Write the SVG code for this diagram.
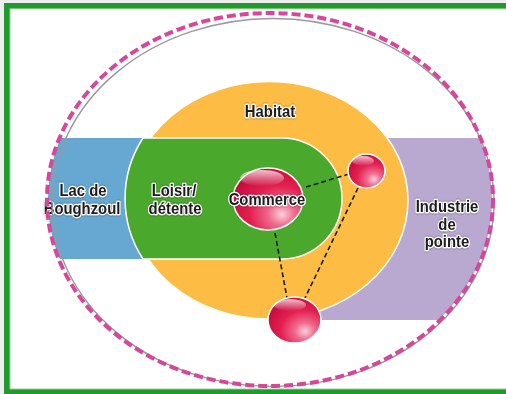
<svg xmlns="http://www.w3.org/2000/svg" width="506" height="394" viewBox="0 0 506 394">
<defs>
<style>
.lbl{font-family:"Liberation Sans",Arial,sans-serif;font-weight:bold;font-size:16.5px;fill:#1a1a1a;stroke:#ffffff;stroke-width:2.6;paint-order:stroke;stroke-linejoin:round;text-anchor:middle;filter:url(#halo)}
.conn{fill:none;stroke:#1a1a1a;stroke-width:1.6;stroke-dasharray:5 3}
.ball{fill:url(#ballg);stroke:#ffffff;stroke-width:1.5}
.shine{fill:url(#shineg)}
</style>
<clipPath id="inner"><ellipse cx="270" cy="200" rx="222" ry="185"/></clipPath>
<radialGradient id="ballg" cx="0.68" cy="0.72" r="0.75" fx="0.7" fy="0.75">
<stop offset="0" stop-color="#fbd0dc"/>
<stop offset="0.25" stop-color="#f06a8e"/>
<stop offset="0.6" stop-color="#e2204f"/>
<stop offset="1" stop-color="#c40c3c"/>
</radialGradient>
<linearGradient id="shineg" x1="0" y1="0" x2="0" y2="1">
<stop offset="0" stop-color="#ffffff" stop-opacity="0.75"/>
<stop offset="1" stop-color="#ffffff" stop-opacity="0"/>
</linearGradient>
<filter id="halo" x="-20%" y="-40%" width="140%" height="180%">
<feDropShadow dx="0" dy="0" stdDeviation="0.8" flood-color="#000" flood-opacity="0.55"/>
</filter>
</defs>

<g id="frame">
<rect x="0" y="0" width="506" height="394" fill="#eeeeee"/>
<rect x="4" y="3" width="502" height="391" fill="#22992f"/>
<rect x="9.5" y="8.3" width="497" height="381.2" fill="#8fd38f"/>
<rect x="10.5" y="9.3" width="496" height="379.2" fill="#ffffff"/>
</g>

<g id="bands" clip-path="url(#inner)">
<rect id="lac-band" x="40" y="138" width="160" height="121" fill="#66a8d1"/>
<rect id="industrie-band" x="300" y="138" width="200" height="182" fill="#b9a9d1"/>
</g>

<g id="habitat">
<ellipse cx="269" cy="200.3" rx="139" ry="118.7" fill="#fdbc43" stroke="#ffffff" stroke-width="1.5"/>
<text class="lbl" transform="translate(270,117) scale(0.9,1)">Habitat</text>
</g>

<g id="loisir">
<path d="M143,138 L281.5,138 A60.5,60.5 0 0 1 281.5,259 L143,259 A111,111 0 0 1 143,138 Z" fill="#4aa82c" stroke="#ffffff" stroke-width="1.5"/>
<text class="lbl" transform="translate(174,196) scale(0.9,1)">Loisir/</text>
<text class="lbl" transform="translate(175,214) scale(0.9,1)">détente</text>
</g>

<g id="lac">
<text class="lbl" transform="translate(83,196) scale(0.9,1)">Lac de</text>
<text class="lbl" transform="translate(82,214) scale(0.9,1)">Boughzoul</text>
</g>

<g id="industrie">
<text class="lbl" transform="translate(447,212) scale(0.9,1)">Industrie</text>
<text class="lbl" transform="translate(447,229.5) scale(0.9,1)">de</text>
<text class="lbl" transform="translate(447,247) scale(0.9,1)">pointe</text>
</g>

<g id="boundary">
<ellipse cx="273" cy="202.5" rx="221" ry="184" fill="none" stroke="#9a9a9a" stroke-width="1.4"/>
<ellipse cx="270" cy="199.5" rx="223" ry="186.5" fill="none" stroke="#d7469b" stroke-width="4" stroke-dasharray="9 4"/>
</g>

<g id="connectors">
<line class="conn" x1="306" y1="187" x2="349" y2="174"/>
<line class="conn" x1="275" y1="233" x2="287" y2="298"/>
<line class="conn" x1="358" y1="188" x2="305" y2="298"/>
</g>

<g id="commerce">
<ellipse class="ball" cx="268" cy="199" rx="35" ry="31"/>
<ellipse class="shine" cx="262" cy="178" rx="22" ry="8"/>
<text class="lbl" transform="translate(267,205) scale(0.9,1)">Commerce</text>
</g>

<g id="pole-east">
<ellipse class="ball" cx="366.5" cy="171" rx="18.5" ry="17"/>
<ellipse class="shine" cx="363" cy="161" rx="11" ry="5"/>
</g>

<g id="pole-south">
<ellipse class="ball" cx="294.5" cy="320" rx="26.5" ry="23"/>
<ellipse class="shine" cx="290" cy="305" rx="16" ry="6"/>
</g>
</svg>
